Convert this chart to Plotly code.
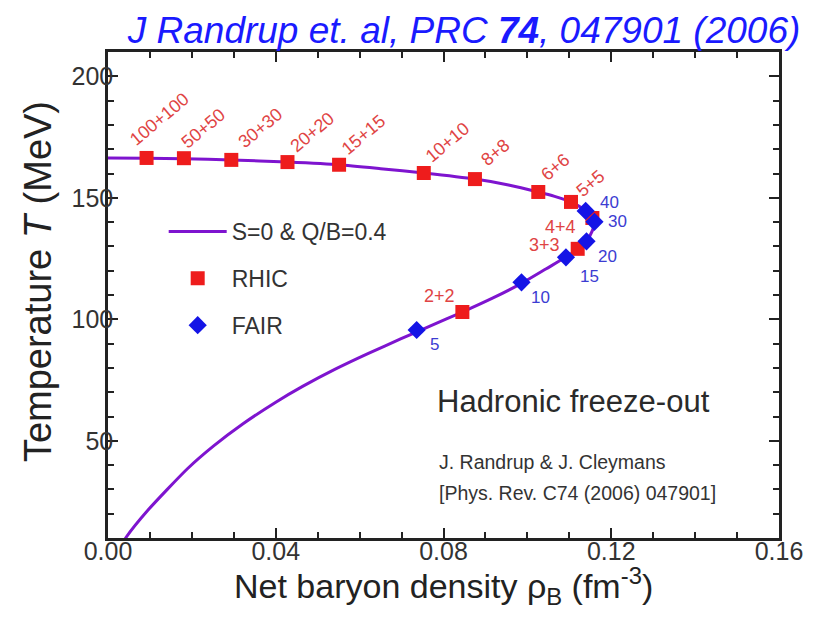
import plotly.graph_objects as go

# freeze-out curve (S=0 & Q/B=0.4)
curve_rho = [0.0035, 0.0042, 0.0095, 0.0190, 0.0252, 0.0322, 0.0401, 0.0464, 0.0543, 0.0621,
             0.0699, 0.0769, 0.0845, 0.0918, 0.0986, 0.1045, 0.1092, 0.1120, 0.1141, 0.1155,
             0.1160, 0.1153, 0.1139, 0.1104, 0.1065, 0.1026, 0.0955, 0.0875, 0.0753, 0.0650,
             0.0551, 0.0428, 0.0294, 0.0181, 0.0092, 0.0]
curve_T = [8.0, 10.0, 21.4, 38.6, 47.9, 57.0, 66.0, 72.4, 79.6, 86.0,
           92.0, 97.3, 103.0, 108.8, 114.8, 120.8, 125.6, 129.0, 132.3, 136.5,
           140.1, 143.0, 144.8, 148.3, 150.6, 152.4, 155.3, 157.7, 160.2, 162.0,
           163.6, 164.7, 165.6, 166.1, 166.3, 166.4]

# RHIC points
rhic_labels = ['100+100', '50+50', '30+30', '20+20', '15+15', '10+10', '8+8', '6+6', '5+5',
               '4+4', '3+3', '2+2']
rhic_rho = [0.0092, 0.0181, 0.0294, 0.0428, 0.0551, 0.0753, 0.0875, 0.1026, 0.1104,
            0.1155, 0.1120, 0.0845]
rhic_T = [166.4, 166.3, 165.6, 164.7, 163.6, 160.2, 157.7, 152.4, 148.3,
          141.7, 129.0, 103.0]

# FAIR points
fair_labels = ['40', '30', '20', '15', '10', '5']
fair_rho = [0.1139, 0.1160, 0.1141, 0.1092, 0.0986, 0.0736]
fair_T = [144.6, 140.1, 132.1, 125.5, 115.2, 95.6]

# label offsets in px (dx, dy on screen) and angle
rhic_offsets = [(13, -39), (20, -30), (29, -32), (25, -30), (24, -30), (24, -31), (21, -27),
                (17, -25), (20, -19), (-32, 9), (-33, -4), (-23, -16)]
rhic_angles = [-40] * 9 + [0] * 3
fair_offsets = [(24, -8), (23, 0), (21, 15), (24, 19), (19, 15), (18, 15)]

font_family = 'Liberation Sans, Arial, sans-serif'
curve_color = '#7e14cf'
rhic_color = '#ee1c1c'
fair_color = '#1414e6'

fig = go.Figure()

fig.add_trace(go.Scatter(
    x=curve_rho, y=curve_T, mode='lines', name='S=0 & Q/B=0.4',
    line=dict(color=curve_color, width=3, shape='spline', smoothing=0.6),
    legendgroup='a'
))
fig.add_trace(go.Scatter(
    x=rhic_rho, y=rhic_T, mode='markers', name='RHIC',
    marker=dict(symbol='square', size=14, color=rhic_color),
    legendgroup='b'
))
fig.add_trace(go.Scatter(
    x=fair_rho, y=fair_T, mode='markers', name='FAIR',
    marker=dict(symbol='diamond', size=14, color=fair_color),
    legendgroup='c'
))

annotations = []
for lab, x, y, (dx, dy), ang in zip(rhic_labels, rhic_rho, rhic_T, rhic_offsets, rhic_angles):
    annotations.append(dict(
        x=x, y=y, xref='x', yref='y', text=lab, showarrow=False,
        xshift=dx, yshift=-dy, textangle=ang,
        font=dict(family=font_family, size=18, color='#e04444')
    ))
for lab, x, y, (dx, dy) in zip(fair_labels, fair_rho, fair_T, fair_offsets):
    annotations.append(dict(
        x=x, y=y, xref='x', yref='y', text=lab, showarrow=False,
        xshift=dx, yshift=-dy,
        font=dict(family=font_family, size=17, color='#3c3cd2')
    ))

annotations += [
    dict(x=0.488, y=0.281, xref='paper', yref='paper', xanchor='left', yanchor='middle',
         text='Hadronic freeze-out', showarrow=False,
         font=dict(family=font_family, size=31, color='#2a2a2a')),
    dict(x=0.49, y=0.156, xref='paper', yref='paper', xanchor='left', yanchor='middle',
         text='J. Randrup &amp; J. Cleymans', showarrow=False,
         font=dict(family=font_family, size=19.5, color='#333333')),
    dict(x=0.49, y=0.092, xref='paper', yref='paper', xanchor='left', yanchor='middle',
         text='[Phys. Rev. C74 (2006) 047901]', showarrow=False,
         font=dict(family=font_family, size=19.5, color='#333333')),
    # axis titles
    dict(x=0.5, y=-0.099, xref='paper', yref='paper', xanchor='center', yanchor='middle',
         text='Net baryon density ρ<sub>B</sub> (fm<sup>-3</sup>)', showarrow=False,
         font=dict(family=font_family, size=34, color='#222222')),
    dict(x=-0.104, y=0.527, xref='paper', yref='paper', xanchor='center', yanchor='middle',
         text='Temperature <i>T</i> (MeV)', showarrow=False, textangle=-90,
         font=dict(family=font_family, size=38, color='#222222')),
]

fig.update_layout(
    width=815, height=619,
    margin=dict(l=108, r=27, t=52, b=81),
    paper_bgcolor='white', plot_bgcolor='white',
    font=dict(family=font_family, color='#333333'),
    title=dict(
        text='<i>J Randrup et. al, PRC <b>74</b>, 047901 (2006)</i>',
        x=0.982, xanchor='right', y=0.952, yanchor='middle', xref='container', yref='container',
        font=dict(family=font_family, size=37, color='#1a1aff')
    ),
    showlegend=True,
    legend=dict(
        x=0.083, y=0.675, xanchor='left', yanchor='top',
        bgcolor='rgba(0,0,0,0)', traceorder='grouped', tracegroupgap=14,
        itemwidth=58,
        font=dict(family=font_family, size=23, color='#333333')
    ),
    annotations=annotations,
)

fig.update_xaxes(
    range=[0, 0.16], dtick=0.04, tick0=0, tickformat='.2f',
    showgrid=False, zeroline=False,
    showline=True, linecolor='#222222', linewidth=2.5, mirror='allticks',
    ticks='inside', ticklen=10, tickwidth=2, tickcolor='#222222',
    minor=dict(dtick=0.01, ticks='inside', ticklen=6, tickwidth=2, tickcolor='#222222'),
    tickfont=dict(family=font_family, size=25, color='#333333'),
    ticklabelstandoff=-11,
)
fig.update_yaxes(
    range=[10, 210], dtick=50, tick0=0,
    showgrid=False, zeroline=False,
    showline=True, linecolor='#222222', linewidth=2.5, mirror='allticks',
    ticks='inside', ticklen=10, tickwidth=2, tickcolor='#222222',
    minor=dict(dtick=10, ticks='inside', ticklen=6, tickwidth=2, tickcolor='#222222'),
    tickfont=dict(family=font_family, size=25, color='#333333'),
    ticklabelstandoff=-13,
)

# page body has a default 8px margin; drop it so the figure sits at the window corner
fig.write_html("out.html", config={'displayModeBar': False},
               post_script="document.body.style.margin='0px';")
